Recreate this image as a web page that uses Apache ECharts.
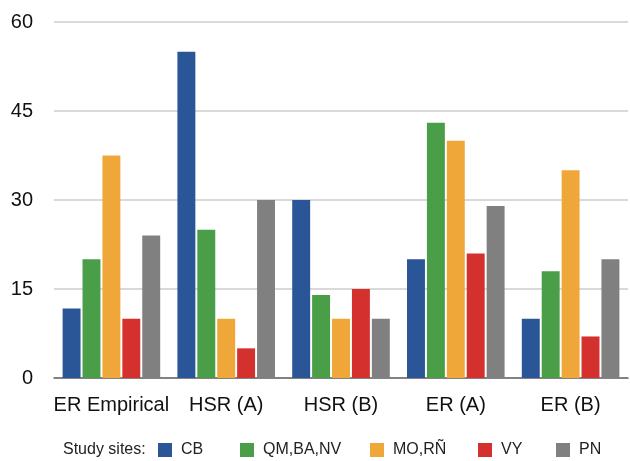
<!DOCTYPE html>
<html><head><meta charset="utf-8">
<script src="https://cdn.jsdelivr.net/npm/echarts@6/dist/echarts.min.js"></script>
<style>html,body{margin:0;padding:0;background:#fff}#c{width:630px;height:461px}</style>
</head><body><div id="c"></div>
<script>
const categories = ['ER Empirical', 'HSR (A)', 'HSR (B)', 'ER (A)', 'ER (B)'];
const seriesNames = ['CB', 'QM,BA,NV', 'MO,RÑ', 'VY', 'PN'];
const yTicks = [0, 15, 30, 45, 60];
const CB = [11.7, 55, 30, 20, 10];
const QM = [20, 25, 14, 43, 18];
const MO = [37.5, 10, 10, 40, 35];
const VY = [10, 5, 15, 21, 7];
const PN = [24, 30, 10, 29, 20];
const colors = ['#2a5597', '#4a9e47', '#f0a73a', '#d3302e', '#808080'];
const values = [CB, QM, MO, VY, PN];
const legendLeft = [158, 240, 370, 478, 556];
const FONT = 'Liberation Sans, Arial, sans-serif';

const chart = echarts.init(document.getElementById('c'));
chart.setOption({
  animation: false,
  color: colors,
  textStyle: {fontFamily: FONT},
  grid: {left: 54, right: 2, top: 22, bottom: 83},
  legend: seriesNames.map((n, i) => ({
    left: legendLeft[i], top: 442, itemWidth: 14, itemHeight: 14, padding: 0,
    icon: 'rect',
    textStyle: {fontSize: 16, color: '#222', fontFamily: FONT, padding: [0, 0, 0, 4]},
    data: [n]
  })),
  graphic: [{
    type: 'text', left: 63, top: 442,
    style: {text: 'Study sites:', fontSize: 16, fill: '#222', fontFamily: FONT}
  }],
  xAxis: {
    type: 'category', data: categories,
    axisTick: {show: false},
    axisLine: {lineStyle: {color: '#666', width: 1.5}},
    axisLabel: {fontSize: 20, color: '#111', margin: 17, interval: 0}
  },
  yAxis: {
    type: 'value', min: yTicks[0], max: yTicks[yTicks.length - 1], interval: 15,
    axisLine: {show: false}, axisTick: {show: false},
    splitLine: {lineStyle: {color: '#cccccc', width: 1.5}},
    axisLabel: {fontSize: 20, color: '#111', margin: 21, padding: [4, 0, 0, 0]}
  },
  series: seriesNames.map((n, i) => ({
    name: n, type: 'bar', data: values[i],
    barGap: '11%', barCategoryGap: '15%'
  }))
});
</script></body></html>
